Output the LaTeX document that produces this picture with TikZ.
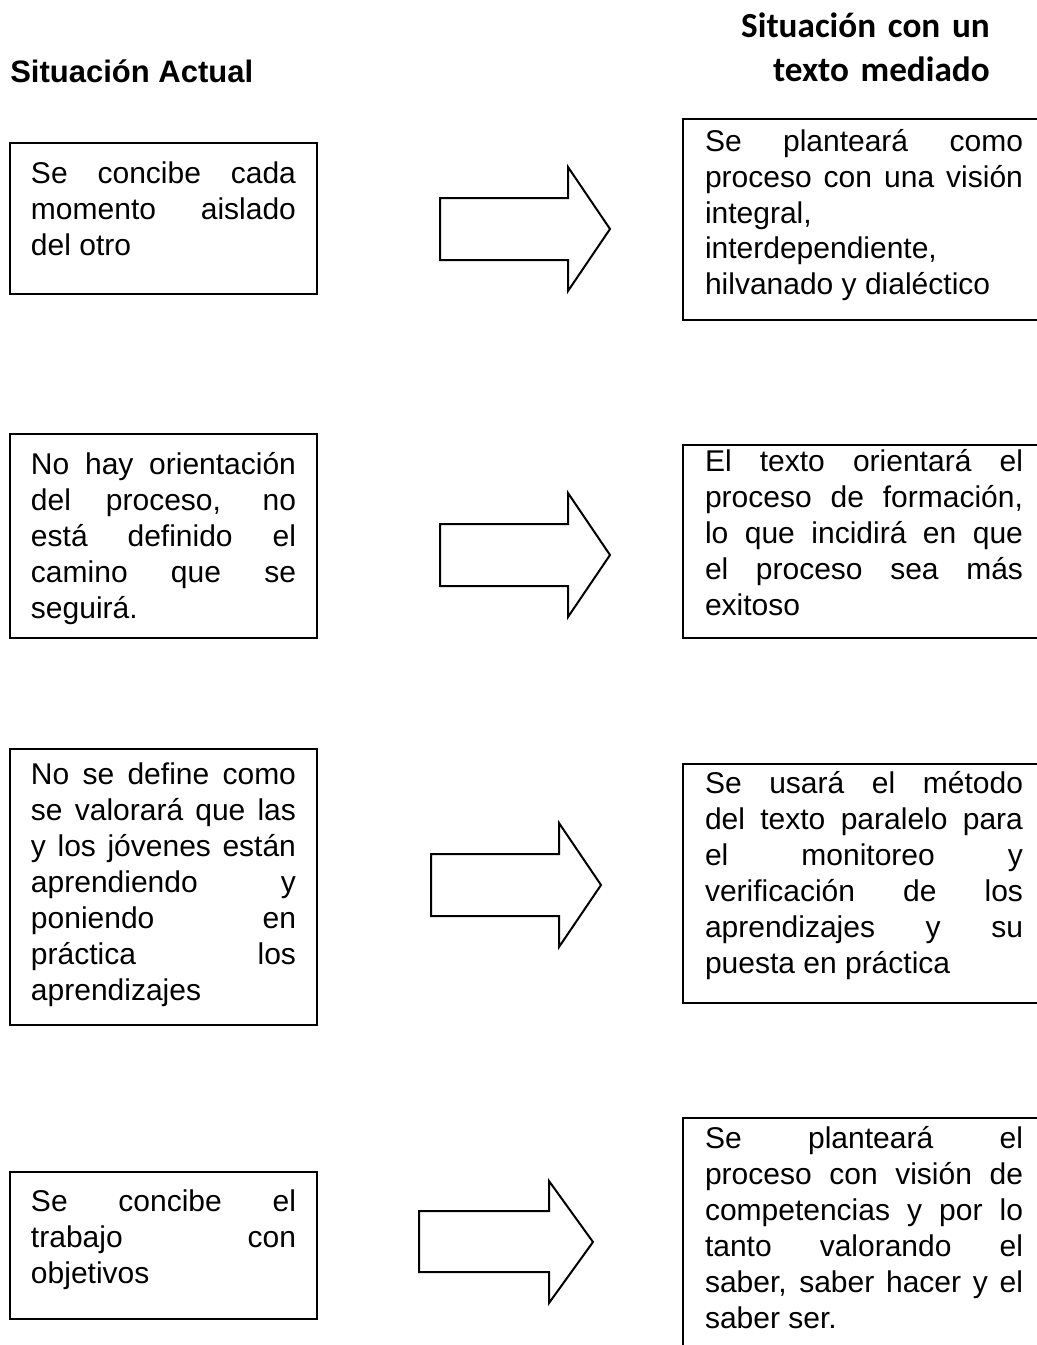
\documentclass[tikz,border=0pt]{standalone}
\usepackage{fontspec}
\setmainfont{Liberation Sans}
\newfontfamily\calibri{Carlito}
\hyphenpenalty=10000
\tolerance=10000
\hbadness=10000

\tikzset{
  caja/.style={draw, line width=1.5pt, anchor=north west, align=justify, inner ysep=0pt,
    font=\fontsize{22.5}{27}\selectfont},
  cajaizq/.style={caja, text width=198.75pt, inner xsep=15.75pt},
  cajader/.style={caja, text width=238.5pt, inner xsep=16.5pt},
  flecha/.style={draw, line width=1.5pt, line join=miter},
}

\begin{document}
\begin{tikzpicture}[x=0.75pt, y=-0.75pt]
  \useasboundingbox (0,0) rectangle (1037,1345);
  \clip (0,0) rectangle (1037,1345);
  % titulos
  \node[anchor=base west, inner sep=0pt, font=\fontsize{23.25}{28}\selectfont\bfseries] (titIzq) at (10,83) {Situación Actual};
  \node[anchor=base east, inner sep=0pt, text width=200pt, align=right, font=\calibri\bfseries\fontsize{26.4}{32.25}\selectfont] (titDer) at (990,38) {Situación con un\\ texto mediado};
  % situacion actual
  \node[cajaizq, text height=30pt, text depth=83.25pt] (izq1) at (9,142) {Se concibe cada\linebreak momento aislado\linebreak del otro};
  \node[cajaizq, text height=30pt, text depth=123pt] (izq2) at (9,433) {No hay orientación\linebreak del proceso, no\linebreak está definido el\linebreak camino que se\linebreak seguirá.};
  \node[cajaizq, text height=26.25pt, text depth=180.75pt] (izq3) at (9,748) {No se define como\linebreak se valorará que las\linebreak y los jóvenes están\linebreak aprendiendo y\linebreak poniendo en\linebreak práctica los\linebreak aprendizajes};
  \node[cajaizq, text height=29.25pt, text depth=81pt] (izq4) at (9,1171) {Se concibe el\linebreak trabajo con\linebreak objetivos};
  % situacion con texto mediado
  \node[cajader, text height=24pt, text depth=126.75pt] (der1) at (682,118) {Se planteará como\linebreak proceso con una visión\linebreak integral,\linebreak interdependiente,\linebreak hilvanado y dialéctico};
  \node[cajader, text height=19.5pt, text depth=125.25pt] (der2) at (682,444) {El texto orientará el\linebreak proceso de formación,\linebreak lo que incidirá en que\linebreak el proceso sea más\linebreak exitoso};
  \node[cajader, text height=21.75pt, text depth=157.5pt] (der3) at (682,763) {Se usará el método\linebreak del texto paralelo para\linebreak el monitoreo y\linebreak verificación de los\linebreak aprendizajes y su\linebreak puesta en práctica};
  \node[cajader, text height=22.5pt, text depth=190pt] (der4) at (682,1117) {Se planteará el\linebreak proceso con visión de\linebreak competencias y por lo\linebreak tanto valorando el\linebreak saber, saber hacer y el\linebreak saber ser.};
  % flechas
  \draw[flecha] (440,198) -- (568,198) -- (568,167) -- (610,229) -- (568,291) -- (568,260) -- (440,260) -- cycle;
  \draw[flecha] (440,524) -- (568,524) -- (568,493) -- (610,555) -- (568,617) -- (568,586) -- (440,586) -- cycle;
  \draw[flecha] (431,854) -- (559,854) -- (559,823) -- (601,885) -- (559,947) -- (559,916) -- (431,916) -- cycle;
  \draw[flecha] (419,1211) -- (549,1211) -- (549,1181) -- (593,1242) -- (549,1303) -- (549,1272) -- (419,1272) -- cycle;
\end{tikzpicture}
\end{document}
